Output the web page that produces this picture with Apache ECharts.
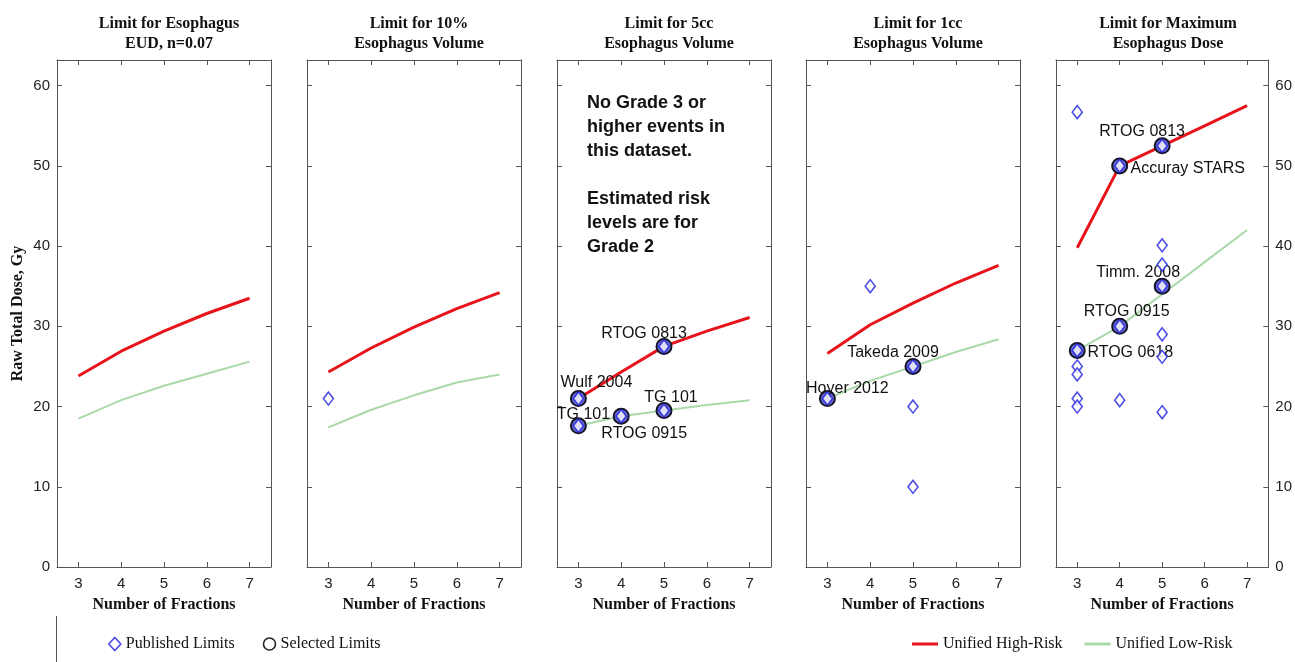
<!DOCTYPE html>
<html>
<head>
<meta charset="utf-8">
<script src="https://cdn.jsdelivr.net/npm/echarts@6/dist/echarts.min.js"></script>
<style>
html, body { margin: 0; padding: 0; background: #fff; }
#chart { width: 1295px; height: 662px; }
</style>
</head>
<body>
<div id="chart"></div>
<script>
// ---- data ----
const fractions = [3, 4, 5, 6, 7];
const xTicks = [3, 4, 5, 6, 7];
const yTicks = [0, 10, 20, 30, 40, 50, 60];

const panelTitles = [
  'Limit for Esophagus\nEUD, n=0.07',
  'Limit for 10%\nEsophagus Volume',
  'Limit for 5cc\nEsophagus Volume',
  'Limit for 1cc\nEsophagus Volume',
  'Limit for Maximum\nEsophagus Dose'
];

// unified high-risk / low-risk curves, one value per fraction
const high1 = [23.8, 26.9, 29.4, 31.6, 33.5];
const low1 = [18.5, 20.8, 22.6, 24.1, 25.6];
const high2 = [24.3, 27.3, 29.9, 32.2, 34.2];
const low2 = [17.4, 19.6, 21.4, 23.0, 24.0];
const high3 = [21.0, 24.3, 27.5, 29.4, 31.1];
const low3 = [17.6, 18.8, 19.5, 20.2, 20.8];
const high4 = [26.6, 30.2, 32.9, 35.4, 37.6];
const low4 = [21.0, 23.2, 25.0, 26.8, 28.4];
const high5 = [39.8, 50.0, 52.5, 55.0, 57.5];
const low5 = [27.0, 30.0, 34.0, 38.0, 42.0];

// published limits [fractions, dose]
const pub1 = [];
const pub2 = [[3, 21]];
const pub3 = [[3, 21], [3, 17.6], [4, 18.8], [5, 19.5], [5, 27.5]];
const pub4 = [[3, 21], [4, 35], [5, 25], [5, 20], [5, 10]];
const pub5 = [
  [3, 56.7], [3, 27], [3, 25], [3, 24], [3, 21], [3, 20],
  [4, 50], [4, 30], [4, 20.8],
  [5, 52.5], [5, 40.1], [5, 37.7], [5, 35], [5, 29], [5, 26.2], [5, 19.3]
];

// selected limits [fractions, dose, source]
const sel1 = [];
const sel2 = [];
const sel3 = [[3, 21, 'Wulf 2004'], [3, 17.6, 'TG 101'], [4, 18.8, 'RTOG 0915'], [5, 19.5, 'TG 101'], [5, 27.5, 'RTOG 0813']];
const sel4 = [[3, 21, 'Hoyer 2012'], [5, 25, 'Takeda 2009']];
const sel5 = [[3, 27, 'RTOG 0618'], [4, 30, 'RTOG 0915'], [4, 50, 'Accuray STARS'], [5, 52.5, 'RTOG 0813'], [5, 35, 'Timm. 2008']];

const highs = [high1, high2, high3, high4, high5];
const lows = [low1, low2, low3, low4, low5];
const pubs = [pub1, pub2, pub3, pub4, pub5];
const sels = [sel1, sel2, sel3, sel4, sel5];

// label placement (text centre relative to the marker), per panel
const labelOffset = {
  '2:Wulf 2004': [18, -16],
  '2:TG 101:17.6': [5, -11],
  '2:RTOG 0915': [23, 17],
  '2:TG 101:19.5': [7, -13],
  '2:RTOG 0813': [-20, -13],
  '3:Hoyer 2012': [20, -10],
  '3:Takeda 2009': [-20, -14],
  '4:RTOG 0618': [53, 2],
  '4:RTOG 0915': [7, -15],
  '4:Accuray STARS': [68, 3],
  '4:RTOG 0813': [-20, -14],
  '4:Timm. 2008': [-24, -14]
};

// ---- layout ----
const gridLeft = [57, 307, 557, 806, 1056];
const gridW = 214;
const gridTop = 60;
const gridH = 507;
const sans = 'Liberation Sans, Arial, sans-serif';
const serif = 'Liberation Serif, Times New Roman, serif';
const boxColor = '#555';

const grids = [], xAxes = [], yAxes = [], titles = [], series = [];

gridLeft.forEach((left, i) => {
  grids.push({ left, top: gridTop, width: gridW, height: gridH });
  titles.push({
    text: panelTitles[i],
    left: left + gridW / 2,
    top: 9,
    textAlign: 'center',
    textStyle: { fontFamily: serif, fontWeight: 'bold', fontSize: 16, lineHeight: 20, color: '#111' }
  });
  const xBase = {
    gridIndex: i, type: 'value', min: 2.5, max: 7.5,
    axisLine: { show: true, onZero: false, lineStyle: { color: boxColor, width: 1 } },
    axisTick: { show: true, inside: true, length: 5, customValues: xTicks, lineStyle: { color: boxColor } },
    splitLine: { show: false }
  };
  xAxes.push(Object.assign({}, xBase, {
    position: 'bottom',
    axisLabel: { customValues: xTicks, fontFamily: sans, fontSize: 15, color: '#222', margin: 9 },
    name: 'Number of Fractions', nameLocation: 'middle', nameGap: 30,
    nameTextStyle: { fontFamily: serif, fontWeight: 'bold', fontSize: 16, color: '#111' }
  }));
  xAxes.push(Object.assign({}, xBase, {
    position: 'top',
    axisLabel: { show: false, customValues: xTicks }
  }));

  const yBase = {
    gridIndex: i, type: 'value', min: 0, max: 63.2,
    axisLine: { show: true, onZero: false, lineStyle: { color: boxColor, width: 1 } },
    axisTick: { show: true, inside: true, length: 5, customValues: yTicks, lineStyle: { color: boxColor } },
    splitLine: { show: false }
  };
  yAxes.push(Object.assign({}, yBase, {
    position: 'left',
    axisLabel: { show: i === 0, customValues: yTicks, fontFamily: sans, fontSize: 15, color: '#222', margin: 7 },
    name: i === 0 ? 'Raw Total Dose, Gy' : '', nameLocation: 'middle', nameGap: 31,
    nameTextStyle: { fontFamily: serif, fontWeight: 'bold', fontSize: 16, color: '#111' }
  }));
  yAxes.push(Object.assign({}, yBase, {
    position: 'right',
    axisLabel: { show: i === 4, customValues: yTicks, fontFamily: sans, fontSize: 15, color: '#222', margin: 7 }
  }));

  const ax = { xAxisIndex: 2 * i, yAxisIndex: 2 * i };

  series.push(Object.assign({
    name: 'Unified Low-Risk', type: 'line', symbol: 'none', z: 2,
    data: fractions.map((f, j) => [f, lows[i][j]]),
    lineStyle: { color: '#a9d9a9', width: 2 }, itemStyle: { color: '#a9d9a9' }
  }, ax));
  series.push(Object.assign({
    name: 'Unified High-Risk', type: 'line', symbol: 'none', z: 3,
    data: fractions.map((f, j) => [f, highs[i][j]]),
    lineStyle: { color: '#e8141b', width: 3 }, itemStyle: { color: '#e8141b' }
  }, ax));
  series.push(Object.assign({
    name: 'Selected Limits', type: 'scatter', symbol: 'circle', symbolSize: 15, z: 4,
    data: sels[i].map(d => ({
      value: [d[0], d[1]],
      name: d[2],
      label: {
        offset: labelOffset[i + ':' + d[2]] || labelOffset[i + ':' + d[2] + ':' + d[1]] || [0, -14]
      }
    })),
    itemStyle: { color: '#6a6ad2', borderColor: '#15152a', borderWidth: 2, opacity: 1 },
    label: {
      show: true, position: 'inside', formatter: p => p.name,
      fontFamily: sans, fontSize: 16, color: '#111', opacity: 1,
      textBorderWidth: 0, textBorderColor: 'transparent'
    }
  }, ax));
  series.push(Object.assign({
    name: 'Published Limits', type: 'scatter', symbol: 'diamond', symbolSize: [10, 13], z: 5,
    data: pubs[i],
    itemStyle: { color: '#fff', borderColor: '#1f1fe0', borderWidth: 1.6 }
  }, ax));
});

const chart = echarts.init(document.getElementById('chart'));
chart.setOption({
  animation: false,
  backgroundColor: '#fff',
  title: titles,
  grid: grids,
  xAxis: xAxes,
  yAxis: yAxes,
  legend: [
    {
      left: 103, top: 631, itemGap: 28, itemWidth: 12, itemHeight: 13,
      textStyle: { fontFamily: serif, fontSize: 16, color: '#111' },
      data: [
        { name: 'Published Limits', icon: 'diamond', itemStyle: { color: '#fff', borderColor: '#1f1fe0', borderWidth: 1.6 } },
        { name: 'Selected Limits', icon: 'circle', itemStyle: { color: '#fff', borderColor: '#222', borderWidth: 1.6 } }
      ]
    },
    {
      left: 907, top: 631, itemGap: 22, itemWidth: 26, itemHeight: 3,
      textStyle: { fontFamily: serif, fontSize: 16, color: '#111' },
      data: [
        { name: 'Unified High-Risk', icon: 'rect' },
        { name: 'Unified Low-Risk', icon: 'rect' }
      ]
    }
  ],
  graphic: [
    {
      type: 'text', left: 587, top: 91,
      style: {
        text: 'No Grade 3 or\nhigher events in\nthis dataset.\n\nEstimated risk\nlevels are for\nGrade 2',
        font: 'bold 18px Liberation Sans, Arial, sans-serif',
        lineHeight: 24, fill: '#111'
      }
    },
    {
      type: 'line', shape: { x1: 56.5, y1: 616, x2: 56.5, y2: 662 },
      style: { stroke: '#555', lineWidth: 1 }
    }
  ],
  series
});
</script>
</body>
</html>
